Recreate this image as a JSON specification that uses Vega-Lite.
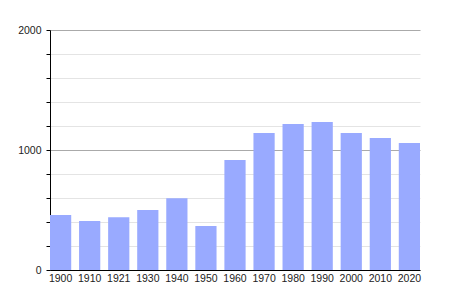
{
  "$schema": "https://vega.github.io/schema/vega-lite/v6.json",
  "autosize": "none",
  "width": 370,
  "height": 240,
  "padding": {"left": 50, "top": 30, "right": 30, "bottom": 30},
  "background": "white",
  "data": {
    "values": [
      {"year": "1900", "pop": 458},
      {"year": "1910", "pop": 408},
      {"year": "1921", "pop": 439},
      {"year": "1930", "pop": 500},
      {"year": "1940", "pop": 597},
      {"year": "1950", "pop": 367},
      {"year": "1960", "pop": 917},
      {"year": "1970", "pop": 1142},
      {"year": "1980", "pop": 1217},
      {"year": "1990", "pop": 1233},
      {"year": "2000", "pop": 1142},
      {"year": "2010", "pop": 1100},
      {"year": "2020", "pop": 1058}
    ]
  },
  "mark": {"type": "bar", "color": "#99aaff"},
  "encoding": {
    "x": {
      "field": "year",
      "type": "ordinal",
      "sort": null,
      "scale": {"paddingInner": 0.27, "paddingOuter": 0},
      "axis": {
        "title": null,
        "labelAngle": 0,
        "ticks": false,
        "labelPadding": 3,
        "domainColor": "#000",
        "domainWidth": 1,
        "labelFont": "Liberation Sans",
        "labelFontSize": 10.5,
        "labelColor": "#222"
      }
    },
    "y": {
      "field": "pop",
      "type": "quantitative",
      "scale": {"domain": [0, 2000], "nice": false},
      "axis": {
        "title": null,
        "values": [0, 200, 400, 600, 800, 1000, 1200, 1400, 1600, 1800, 2000],
        "labelExpr": "datum.value % 1000 === 0 ? datum.label : ''",
        "format": "d",
        "tickSize": 4,
        "tickColor": "#000",
        "domainColor": "#000",
        "labelPadding": 5,
        "labelFont": "Liberation Sans",
        "labelFontSize": 10.5,
        "labelColor": "#222",
        "grid": true,
        "gridColor": {"condition": {"test": "datum.value % 1000 === 0", "value": "#aaaaaa"}, "value": "#e4e4e4"}
      }
    }
  },
  "config": {"view": {"stroke": null}}
}
